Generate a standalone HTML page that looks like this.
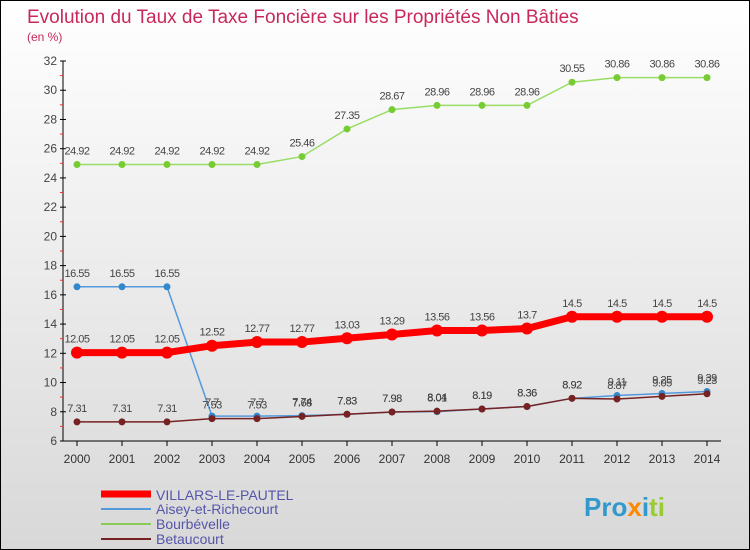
<!DOCTYPE html>
<html><head><meta charset="utf-8"><style>
body{margin:0}
#c{width:748px;height:548px;border:1px solid #000;background:linear-gradient(#fff,#d8d8d8);position:relative;font-family:"Liberation Sans",sans-serif;overflow:hidden}
</style></head><body>
<div id="c">
<svg id="s" width="748" height="548" style="position:absolute;left:0;top:0">
<text x="26" y="22" font-size="19" fill="#c8285a">Evolution du Taux de Taxe Foncière sur les Propriétés Non Bâties</text>
<text x="26" y="40" font-size="12" fill="#c8285a">(en %)</text>
<g id="ax"></g><g id="ser"></g>
<g>
<line x1="100" y1="493" x2="150" y2="493" stroke="#f00" stroke-width="7"/>
<text x="155" y="499" font-size="14" fill="#55a">VILLARS-LE-PAUTEL</text>
<line x1="100" y1="508" x2="150" y2="508" stroke="#5599dd" stroke-width="2"/>
<text x="155" y="513" font-size="14" fill="#55a">Aisey-et-Richecourt</text>
<line x1="100" y1="523" x2="150" y2="523" stroke="#88cc55" stroke-width="2"/>
<text x="155" y="528" font-size="14" fill="#55a">Bourbévelle</text>
<line x1="100" y1="538" x2="150" y2="538" stroke="#772222" stroke-width="2"/>
<text x="155" y="543" font-size="14" fill="#55a">Betaucourt</text>
</g>
<text x="583" y="515" font-size="26" font-weight="bold" fill="#3399cc">Pro<tspan fill="#ff8800">x</tspan>i<tspan fill="#99cc33">ti</tspan></text>
</svg>
</div>
<script>
const years=[2000,2001,2002,2003,2004,2005,2006,2007,2008,2009,2010,2011,2012,2013,2014];
const yTicks=[6,8,10,12,14,16,18,20,22,24,26,28,30,32];
const villars=[12.05,12.05,12.05,12.52,12.77,12.77,13.03,13.29,13.56,13.56,13.7,14.5,14.5,14.5,14.5];
const aisey=[16.55,16.55,16.55,7.7,7.7,7.74,7.83,7.98,8.01,8.19,8.36,8.92,9.11,9.25,9.39];
const bourbevelle=[24.92,24.92,24.92,24.92,24.92,25.46,27.35,28.67,28.96,28.96,28.96,30.55,30.86,30.86,30.86];
const betaucourt=[7.31,7.31,7.31,7.53,7.53,7.68,7.83,7.98,8.04,8.19,8.36,8.92,8.87,9.05,9.23];
const NS="http://www.w3.org/2000/svg";
function X(i){return 76+i*45;}
function Y(v){return 440-(v-6)*380/26;}
function mk(t,a,p){const e=document.createElementNS(NS,t);for(const k in a)e.setAttribute(k,a[k]);p.appendChild(e);return e;}
const ax=document.getElementById('ax'),ser=document.getElementById('ser');
let l=mk('line',{x1:62,y1:Y(32),x2:62,y2:Y(6),stroke:'#000'},ax);


l=mk('line',{x1:62,y1:Y(6),x2:720,y2:Y(6),stroke:'#000'},ax);


yTicks.forEach(v=>{mk('line',{x1:59,y1:Y(v),x2:65,y2:Y(v),stroke:'#000'},ax);
const t=mk('text',{x:56,y:Y(v)+4,'font-size':12,fill:'#444','text-anchor':'end'},ax);t.textContent=v;


if(v<32)mk('line',{x1:59,y1:Y(v+1),x2:62,y2:Y(v+1),stroke:'#e33'},ax);});
years.forEach((yr,i)=>{mk('line',{x1:X(i),y1:440,x2:X(i),y2:445,stroke:'#000'},ax);
const t=mk('text',{x:X(i),y:462,'font-size':12,fill:'#333','text-anchor':'middle'},ax);t.textContent=yr;

});
function series(d,col,w,r,dot,name){const g=mk('g',{},ser);


mk('polyline',{points:d.map((v,i)=>X(i)+','+Y(v)).join(' '),fill:'none',stroke:col,'stroke-width':w},g);
d.forEach((v,i)=>{const c=mk('circle',{cx:X(i),cy:Y(v),r:r,fill:dot},g);


const t=mk('text',{x:X(i),y:Y(v)-10,'font-size':11,fill:'#444','text-anchor':'middle','letter-spacing':'-0.5'},g);t.textContent=v;});}
series(bourbevelle,'#99dd66',1.5,3.5,'#77cc33','series-bourbevelle');
series(aisey,'#5599dd',1.5,3.5,'#3388cc','series-aisey');
series(betaucourt,'#772222',1.5,3.5,'#772222','series-betaucourt');
series(villars,'#ff0000',7,6,'#ff0000','series-villars');
</script>
</body></html>
